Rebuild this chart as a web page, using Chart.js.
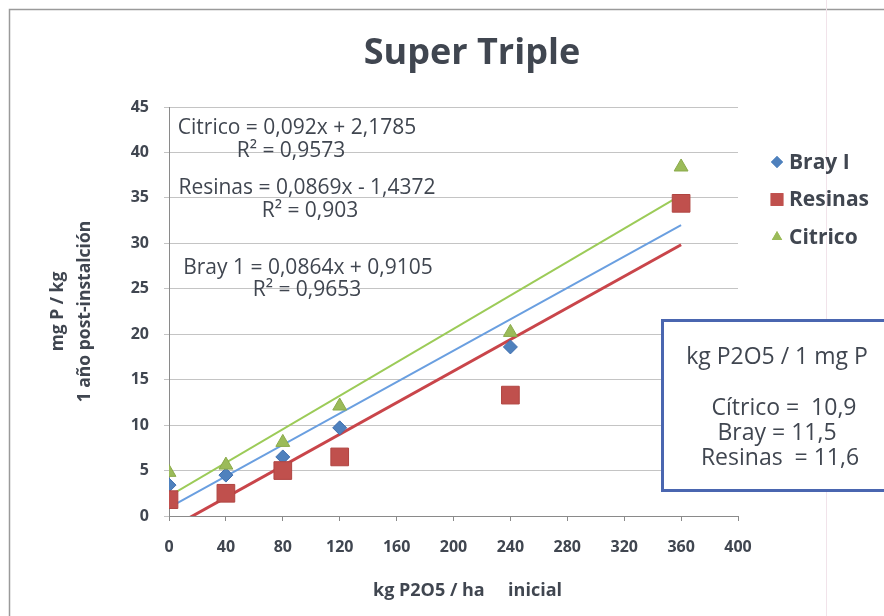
<!DOCTYPE html>
<html>
<head>
<meta charset="utf-8">
<script src="https://cdn.jsdelivr.net/npm/chart.js@4.4.1/dist/chart.umd.min.js"></script>
<style>
  html, body { margin: 0; padding: 0; background: #fff; }
  #wrap { width: 884px; height: 616px; position: relative; }
</style>
</head>
<body>
<div id="wrap"><canvas id="chart" width="884" height="616"></canvas></div>
<script>
// dose of P2O5 applied (kg/ha)
const doses = [0, 40, 80, 120, 240, 360];
// soil P one year later (mg P/kg)
const brayValues = [3.4, 4.5, 6.5, 9.7, 18.6, 34.5];
const resinasValues = [1.8, 2.5, 5.0, 6.5, 13.3, 34.4];
const citricoValues = [4.8, 5.6, 8.1, 12.1, 20.2, 38.4];

// linear trend coefficients printed on the chart
const trendSlopes = [0.0864, 0.0869, 0.092];      // Bray, Resinas, Citrico
const trendIntercepts = [0.9105, -1.4372, 2.1785];
const trendRange = [0, 360];

const xTicks = [0, 40, 80, 120, 160, 200, 240, 280, 320, 360, 400];
const yTicks = [0, 5, 10, 15, 20, 25, 30, 35, 40, 45];

const equationLines = [
    ["Citrico = 0,092x + 2,1785", "R\u00b2 = 0,9573"],
    ["Resinas = 0,0869x - 1,4372", "R\u00b2 = 0,903"],
    ["Bray 1 = 0,0864x + 0,9105", "R\u00b2 = 0,9653"]
];
const boxLines = ["kg P2O5 / 1 mg P", "C\u00edtrico =  10,9", "Bray = 11,5", "Resinas  = 11,6"];

const BLUE = "#4F81BD", RED = "#C0504D", GREEN = "#9BBB59";
const TEXT = "#404650";
const FONT = "'Open Sans', Lato, sans-serif";

function pts(values) {
    return doses.map((d, i) => ({ x: d, y: values[i] }));
}
function trend(i) {
    return trendRange.map(x => ({ x: x, y: trendSlopes[i] * x + trendIntercepts[i] }));
}

const legendItems = [
    { label: "Bray I", color: BLUE, style: "rectRot", r: 6 },
    { label: "Resinas", color: RED, style: "rect", r: 9 },
    { label: "Citrico", color: GREEN, style: "triangle", r: 6 }
];

const decorPlugin = {
    id: 'decor',
    beforeDraw: (chart) => {
        const ctx = chart.ctx;
        ctx.save();
        ctx.fillStyle = "#fff";
        ctx.fillRect(0, 0, chart.width, chart.height);
        // outer frame of the scanned chart
        ctx.strokeStyle = "#9a9a9a";
        ctx.lineWidth = 1.5;
        ctx.beginPath();
        ctx.moveTo(9.5, chart.height);
        ctx.lineTo(9.5, 9.5);
        ctx.lineTo(chart.width, 9.5);
        ctx.stroke();
        ctx.strokeStyle = "#f1e3ea";
        ctx.lineWidth = 1;
        ctx.beginPath();
        ctx.moveTo(826.5, 0);
        ctx.lineTo(826.5, chart.height);
        ctx.stroke();
        ctx.restore();
    },
    afterDraw: (chart) => {
        const ctx = chart.ctx;
        ctx.save();
        ctx.fillStyle = TEXT;
        ctx.textAlign = "center";
        ctx.textBaseline = "middle";

        // chart title
        ctx.font = "bold 36px " + FONT;
        ctx.fillText("Super Triple", 472, 54);

        // trendline equations
        ctx.font = "21px " + FONT;
        const eqPos = [[297, 128, 291, 151], [307, 188, 310, 211], [308, 268, 307, 290]];
        equationLines.forEach((lines, i) => {
            ctx.fillText(lines[0], eqPos[i][0], eqPos[i][1]);
            ctx.fillText(lines[1], eqPos[i][2], eqPos[i][3]);
        });

        // legend
        ctx.textAlign = "left";
        ctx.font = "bold 21px " + FONT;
        legendItems.forEach((item, i) => {
            const y = 162 + i * 37.5;
            ctx.fillStyle = item.color;
            ctx.beginPath();
            Chart.helpers.drawPoint(ctx, {
                pointStyle: item.style, radius: item.r, rotation: 0, borderWidth: 0
            }, 777, y);
            ctx.fill();
            ctx.fillStyle = TEXT;
            ctx.fillText(item.label, 789, y + 1);
        });

        // text box
        ctx.fillStyle = "#fff";
        ctx.fillRect(662, 320, 240, 170);
        ctx.strokeStyle = "#4A66B0";
        ctx.lineWidth = 3;
        ctx.strokeRect(662.5, 320.5, 240, 170);
        ctx.fillStyle = TEXT;
        ctx.textAlign = "center";
        ctx.font = "23px " + FONT;
        const boxY = [357, 408, 433, 458];
        const boxX = [777, 784, 777, 780];
        boxLines.forEach((t, i) => ctx.fillText(t, boxX[i], boxY[i]));
        ctx.restore();
    }
};

const ctx = document.getElementById('chart').getContext('2d');
new Chart(ctx, {
    type: 'scatter',
    data: {
        datasets: [
            { label: "Bray I", data: pts(brayValues), pointStyle: 'rectRot', pointRadius: 7,
              backgroundColor: BLUE, borderColor: "#3f6fb0", borderWidth: 1, order: 2 },
            { label: "Resinas", data: pts(resinasValues), pointStyle: 'rect', pointRadius: 12.5,
              backgroundColor: RED, borderColor: "#b04441", borderWidth: 1, order: 1 },
            { label: "Citrico", data: pts(citricoValues), pointStyle: 'triangle', pointRadius: 8,
              backgroundColor: GREEN, borderColor: "#8aaa4a", borderWidth: 1, order: 0 },
            { label: "trend Bray", data: trend(0), showLine: true, pointRadius: 0,
              borderColor: "#6A9FE0", borderWidth: 2, order: 3 },
            { label: "trend Resinas", data: trend(1), showLine: true, pointRadius: 0,
              borderColor: "#C9454A", borderWidth: 3, order: 3 },
            { label: "trend Citrico", data: trend(2), showLine: true, pointRadius: 0,
              borderColor: "#9CCB58", borderWidth: 2, order: 3 }
        ]
    },
    options: {
        responsive: false,
        animation: false,
        events: [],
        layout: { padding: { top: 107, right: 146, bottom: 14, left: 44 } },
        plugins: {
            legend: { display: false },
            tooltip: { enabled: false },
            title: { display: false }
        },
        scales: {
            x: {
                type: 'linear',
                min: 0, max: 400,
                afterBuildTicks: (scale) => { scale.ticks = xTicks.map(v => ({ value: v })); },
                afterFit: (scale) => { scale.height = 86; },
                ticks: { color: TEXT, padding: 17, font: { family: FONT, size: 16, weight: "bold" } },
                grid: { drawOnChartArea: false, drawTicks: true, tickLength: 5, color: "#8a8a8a" },
                border: { color: "#8a8a8a" },
                title: {
                    display: true,
                    text: "      kg P2O5 / ha     inicial",
                    color: TEXT,
                    font: { family: FONT, size: 18, weight: "bold" },
                    padding: 0
                }
            },
            y: {
                type: 'linear',
                min: 0, max: 45,
                afterBuildTicks: (scale) => { scale.ticks = yTicks.map(v => ({ value: v })); },
                afterFit: (scale) => { scale.width = 125; },
                ticks: { color: TEXT, padding: 15, font: { family: FONT, size: 16, weight: "bold" } },
                grid: { color: "#c4c4c4", tickLength: 5 },
                border: { color: "#8a8a8a" },
                title: {
                    display: true,
                    text: ["mg P / kg", "1 a\u00f1o post-instalci\u00f3n"],
                    color: TEXT,
                    font: { family: FONT, size: 17.5, weight: "bold", lineHeight: 1.55 },
                    padding: 0
                }
            }
        }
    },
    plugins: [decorPlugin]
});
</script>
</body>
</html>
